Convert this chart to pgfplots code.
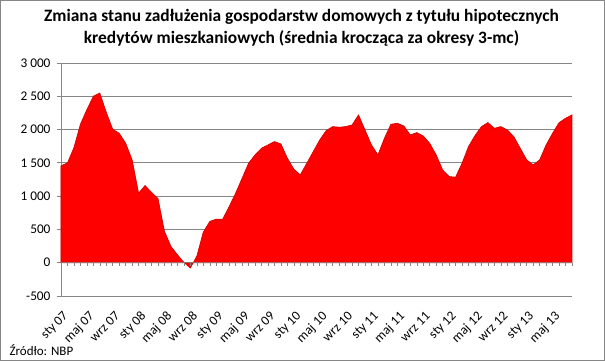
\documentclass[border=0pt]{standalone}
\usepackage{pgfplots}
\pgfplotsset{compat=1.18}
\usepackage{fontspec}
\setmainfont{Carlito}
\definecolor{gridgray}{HTML}{868686}
\definecolor{areared}{HTML}{FF0000}
\pgfplotstableread{
i v
0 1455
1 1500
2 1730
3 2080
4 2300
5 2500
6 2550
7 2260
8 2005
9 1945
10 1795
11 1545
12 1045
13 1160
14 1055
15 965
16 470
17 245
18 120
19 5
20 -80
21 100
22 460
23 620
24 655
25 655
26 845
27 1045
28 1270
29 1495
30 1620
31 1720
32 1770
33 1820
34 1785
35 1570
36 1405
37 1320
38 1495
39 1670
40 1845
41 1985
42 2045
43 2035
44 2045
45 2070
46 2220
47 1995
48 1770
49 1620
50 1870
51 2080
52 2095
53 2055
54 1920
55 1955
56 1905
57 1795
58 1620
59 1395
60 1295
61 1285
62 1495
63 1745
64 1910
65 2045
66 2105
67 2020
68 2045
69 1995
70 1895
71 1720
72 1545
73 1470
74 1545
75 1770
76 1945
77 2105
78 2170
79 2220
}\datatable
\begin{document}
\begin{tikzpicture}
\useasboundingbox (0,0) rectangle (605bp,361bp);
\draw[gridgray, line width=0.8bp] (0.5bp,0.5bp) rectangle (604.5bp,360.5bp);
\node[anchor=north, align=center, inner sep=0pt, font=\fontsize{17.4bp}{22bp}\selectfont\bfseries] at (301.5bp,352bp)
  {Zmiana stanu zadłużenia gospodarstw domowych z tytułu hipotecznych\\kredytów mieszkaniowych (średnia krocząca za okresy 3-mc)};
\begin{axis}[
  scale only axis, width=511bp, height=233bp,
  at={(61bp,65bp)}, anchor=south west,
  xmin=0, xmax=79, ymin=-500, ymax=3000,
  axis y line*=left, axis x line*=bottom,
  axis line style={gridgray, line width=0.8bp},
  ytick={-500,0,500,1000,1500,2000,2500,3000},
  yticklabels={-500,0,500,1 000,1 500,2 000,2 500,3 000},
  ymajorgrids, grid style={gridgray, line width=0.8bp},
  ytick style={gridgray, line width=0.8bp},
  tick align=outside, major tick length=4bp,
  xtick={0,4,...,76},
  xticklabels={sty 07,maj 07,wrz 07,sty 08,maj 08,wrz 08,sty 09,maj 09,wrz 09,sty 10,maj 10,wrz 10,sty 11,maj 11,wrz 11,sty 12,maj 12,wrz 12,sty 13,maj 13},
  xtick style={draw=none},
  xticklabel style={rotate=45, anchor=north east, font=\fontsize{13.3bp}{15bp}\selectfont, yshift=-5bp, xshift=-3bp},
  yticklabel style={font=\fontsize{13.3bp}{15bp}\selectfont, xshift=-3bp},
  clip=false,
]
\addplot[fill=areared, draw=red!80!black, line width=0.6bp] table[x=i, y=v] {\datatable} \closedcycle;
\end{axis}
\begin{axis}[
  scale only axis, width=511bp, height=233bp,
  at={(61bp,65bp)}, anchor=south west,
  xmin=0, xmax=79, ymin=-500, ymax=3000,
  axis x line=middle, axis y line=none,
  axis line style={-, draw=gridgray!80!red, line width=0.8bp},
  xtick={0,...,79}, xticklabels={},
  ytick=\empty,
  tick align=outside, major tick length=3bp,
  xtick style={gridgray, line width=0.5bp},
]
\end{axis}
\node[anchor=south west, font=\fontsize{13bp}{15bp}\selectfont] at (6bp,2bp) {Źródło: NBP};
\end{tikzpicture}
\end{document}
